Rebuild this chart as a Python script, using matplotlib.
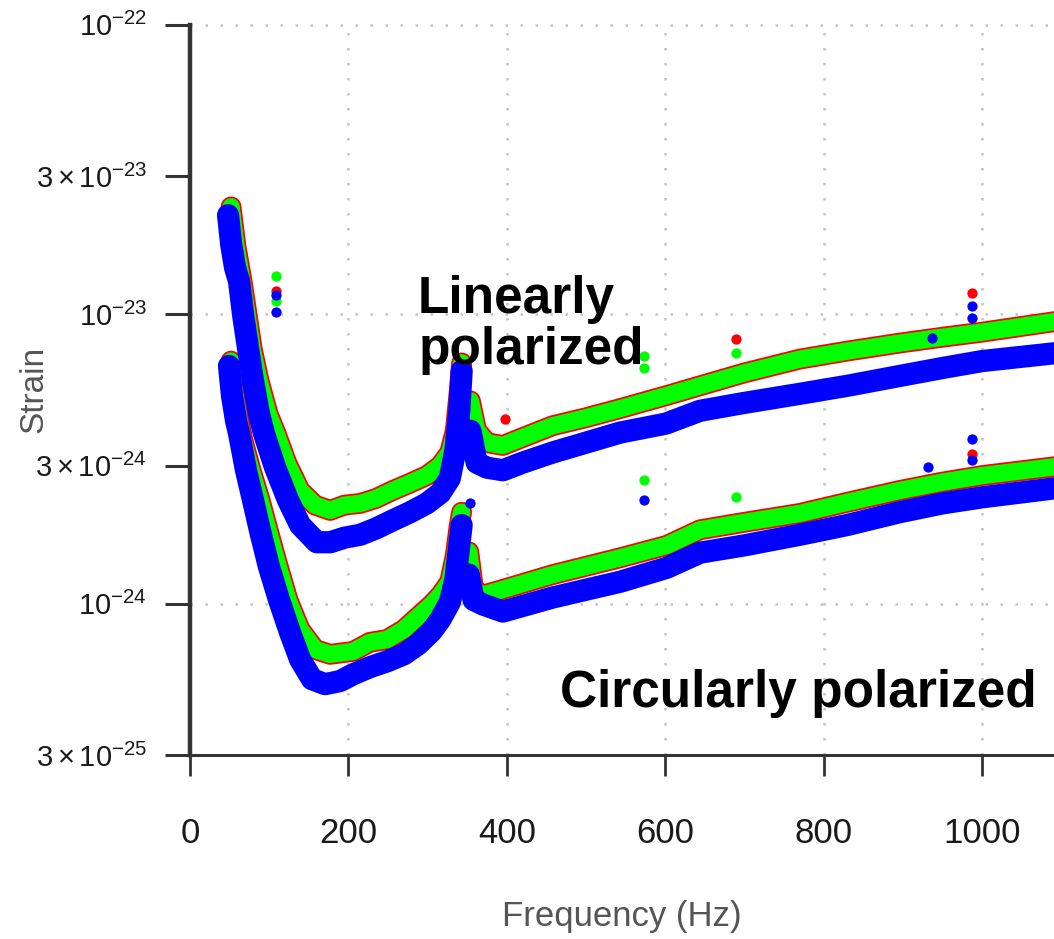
import matplotlib
matplotlib.use('Agg')
import matplotlib.pyplot as plt
from matplotlib.ticker import NullLocator
import numpy as np

plt.rcParams['font.family'] = ['Liberation Sans', 'DejaVu Sans']
plt.rcParams['mathtext.fontset'] = 'custom'
plt.rcParams['mathtext.rm'] = 'Liberation Sans'
plt.rcParams['mathtext.it'] = 'Liberation Sans:italic'
plt.rcParams['mathtext.bf'] = 'Liberation Sans:bold'

nan = np.nan

# --- Linearly polarized group ---
lin_green_f = [51.8, 58.1, 65.7, 72.0, 78.3, 87.1, 98.5, 108.6, 122.5, 138.9, 157.8, 177,
               195, 215, 235, 256, 278, 299, 316, 328, 335, 340, 343, 348,
               354, 362, 375, 395, 420, 458, 500, 543, 601, 644, 700, 770, 830, 896, 950, 1000, 1095]
lin_green_s = [2.35e-23, 1.71e-23, 1.30e-23, 1.00e-23, 7.64e-24, 5.89e-24, 4.53e-24, 3.87e-24, 3.05e-24,
               2.46e-24, 2.19e-24, 2.10e-24, 2.19e-24, 2.22e-24, 2.31e-24, 2.46e-24, 2.61e-24, 2.77e-24,
               3.00e-24, 3.33e-24, 3.96e-24, 5.44e-24, 6.79e-24, nan,
               5.02e-24, 3.96e-24, 3.60e-24, 3.52e-24, 3.75e-24, 4.12e-24, 4.39e-24, 4.72e-24, 5.23e-24,
               5.66e-24, 6.27e-24, 7.00e-24, 7.46e-24, 7.95e-24, 8.33e-24, 8.67e-24, 9.46e-24]

lin_blue_f = [48.0, 52.0, 56.8, 61.9, 66.9, 73.2, 79.5, 87.1, 93.4, 107.3, 123.7, 139, 160, 177,
              195, 215, 235, 256, 278, 299, 316, 328, 335, 340, 343, 348,
              354, 362, 375, 395, 420, 458, 500, 543, 601, 644, 700, 770, 830, 896, 950, 1000, 1095]
lin_blue_s = [2.20e-23, 1.74e-23, 1.45e-23, 1.30e-23, 1.00e-23, 7.64e-24, 5.89e-24, 4.53e-24, 3.87e-24,
              2.96e-24, 2.28e-24, 1.87e-24, 1.63e-24, 1.63e-24, 1.69e-24, 1.73e-24, 1.82e-24, 1.94e-24,
              2.07e-24, 2.22e-24, 2.41e-24, 2.71e-24, 3.38e-24, 4.64e-24, 6.37e-24, nan,
              3.96e-24, 3.07e-24, 2.95e-24, 2.89e-24, 3.07e-24, 3.33e-24, 3.60e-24, 3.90e-24, 4.19e-24,
              4.64e-24, 4.94e-24, 5.31e-24, 5.66e-24, 6.12e-24, 6.52e-24, 6.89e-24, 7.35e-24]

# --- Circularly polarized group ---
circ_green_f = [51.8, 55.6, 61.9, 66.9, 77.0, 88.4, 98.5, 109.8, 123.7, 138.9, 157.8, 176.8,
                206, 227, 249, 270, 288, 305, 316, 328, 335, 340, 343, 348,
                352, 358, 370, 395, 458, 543, 602, 644, 700, 770, 830, 896, 950, 1000, 1095]
circ_green_s = [6.89e-24, 5.44e-24, 4.29e-24, 3.66e-24, 2.89e-24, 2.28e-24, 1.80e-24, 1.39e-24, 1.03e-24,
                8.14e-25, 6.95e-25, 6.68e-25, 6.84e-25, 7.35e-25, 7.52e-25, 8.14e-25, 9.02e-25, 9.93e-25,
                1.07e-24, 1.19e-24, 1.47e-24, 1.87e-24, 2.07e-24, nan,
                1.51e-24, 1.12e-24, 1.07e-24, 1.12e-24, 1.26e-24, 1.44e-24, 1.59e-24, 1.80e-24, 1.91e-24,
                2.05e-24, 2.24e-24, 2.46e-24, 2.63e-24, 2.77e-24, 2.98e-24]

circ_blue_f = [49.2, 53.0, 58.1, 61.9, 70.7, 79.5, 89.6, 99.7, 112.4, 126.3, 138.9, 154.0, 170.5, 189.4,
               206, 227, 249, 270, 288, 305, 316, 328, 335, 340, 343, 348,
               352, 358, 370, 395, 458, 543, 602, 644, 700, 770, 830, 896, 950, 1000, 1095]
circ_blue_s = [6.63e-24, 5.23e-24, 4.29e-24, 3.87e-24, 2.89e-24, 2.28e-24, 1.73e-24, 1.34e-24, 1.03e-24,
               7.95e-25, 6.42e-25, 5.48e-25, 5.27e-25, 5.40e-25, 5.70e-25, 6.03e-25, 6.32e-25, 6.68e-25,
               7.23e-25, 8.02e-25, 8.81e-25, 1.01e-24, 1.21e-24, 1.59e-24, 1.87e-24, nan,
               1.26e-24, 1.03e-24, 9.93e-25, 9.39e-25, 1.05e-24, 1.19e-24, 1.33e-24, 1.50e-24, 1.59e-24,
               1.73e-24, 1.87e-24, 2.07e-24, 2.22e-24, 2.33e-24, 2.51e-24]

# --- isolated line features (outliers above the bands) ---
red_pts_f = [108.6, 398, 987, 690, 987]
red_pts_s = [1.20e-23, 4.36e-24, 1.18e-23, 8.20e-24, 3.30e-24]
green_pts_f = [108.6, 108.6, 573, 573, 690, 573, 690]
green_pts_s = [1.36e-23, 1.11e-23, 7.17e-24, 6.52e-24, 7.35e-24, 2.67e-24, 2.33e-24]
blue_pts_f = [108.6, 108.6, 987, 987, 937, 987, 987, 573, 932, 354]
blue_pts_s = [1.17e-23, 1.02e-23, 1.07e-23, 9.68e-24, 8.27e-24, 3.72e-24, 3.13e-24, 2.28e-24, 2.96e-24, 2.22e-24]

xticks = [0, 200, 400, 600, 800, 1000]
yticks = [3e-25, 1e-24, 3e-24, 1e-23, 3e-23, 1e-22]
ytick_labels = [r'$3\times10^{-25}$', r'$10^{-24}$', r'$3\times10^{-24}$',
                r'$10^{-23}$', r'$3\times10^{-23}$', r'$10^{-22}$']
grid_y = [1e-24, 1e-23, 1e-22]

RED, GREEN, BLUE = '#ff0000', '#00ff00', '#0000ff'

fig = plt.figure(figsize=(10.54, 9.39), dpi=100)
ax = fig.add_axes([0.1803, 0.196, 0.8197, 0.7775])
ax.set_yscale('log')
ax.set_xlim(0, 1091)
ax.set_ylim(3e-25, 1e-22)

# dotted grid, decades only
for gx in xticks[1:]:
    ax.axvline(gx, color='#c4c4c4', lw=1.8, ls=(0, (1, 5)), zorder=0)
for gy in grid_y:
    ax.axhline(gy, color='#c4c4c4', lw=1.8, ls=(0, (1, 5)), zorder=0, clip_on=False)

line_kw = dict(solid_capstyle='round', solid_joinstyle='round')
for gf, gs, bf, bs in [(lin_green_f, lin_green_s, lin_blue_f, lin_blue_s),
                       (circ_green_f, circ_green_s, circ_blue_f, circ_blue_s)]:
    ax.plot(gf, gs, color=RED, lw=15, zorder=2, **line_kw)
    ax.plot(gf, gs, color=GREEN, lw=12.5, zorder=3, **line_kw)
    ax.plot(bf, bs, color=BLUE, lw=16, zorder=4, **line_kw)

ax.scatter(red_pts_f, red_pts_s, s=55, color=RED, lw=0, zorder=5)
ax.scatter(green_pts_f, green_pts_s, s=55, color=GREEN, lw=0, zorder=5)
ax.scatter(blue_pts_f, blue_pts_s, s=55, color=BLUE, lw=0, zorder=5)

# axes styling
for side in ['top', 'right']:
    ax.spines[side].set_visible(False)
ax.spines['left'].set_linewidth(3.2)
ax.spines['bottom'].set_linewidth(2.2)
ax.spines['left'].set_color('#333333')
ax.spines['bottom'].set_color('#333333')

ax.yaxis.set_minor_locator(NullLocator())
ax.set_xticks(xticks)
ax.set_xticklabels([str(t) for t in xticks])
ax.set_yticks(yticks)
ax.set_yticklabels(ytick_labels)
ax.tick_params(axis='x', direction='out', length=15, width=2, color='#333333',
               labelsize=25, pad=30, labelcolor='#1a1a1a')
ax.tick_params(axis='y', direction='out', length=18, width=2.2, color='#333333',
               labelsize=21, pad=13, labelcolor='#1a1a1a')

ax.set_xlabel('Frequency (Hz)', fontsize=25, color='#555555')
ax.xaxis.set_label_coords(0.5, -0.198)
ax.set_ylabel('Strain', fontsize=24, color='#555555')
ax.yaxis.set_label_coords(-0.163, 0.5)

ax.text(288, 1.37e-23, 'Linearly\npolarized', fontsize=37, fontweight='bold',
        color='black', va='top', ha='left', linespacing=1.05, zorder=6)
ax.text(467, 5.93e-25, 'Circularly polarized', fontsize=37, fontweight='bold',
        color='black', va='top', ha='left', zorder=6)

fig.savefig('out.png', dpi=100)
